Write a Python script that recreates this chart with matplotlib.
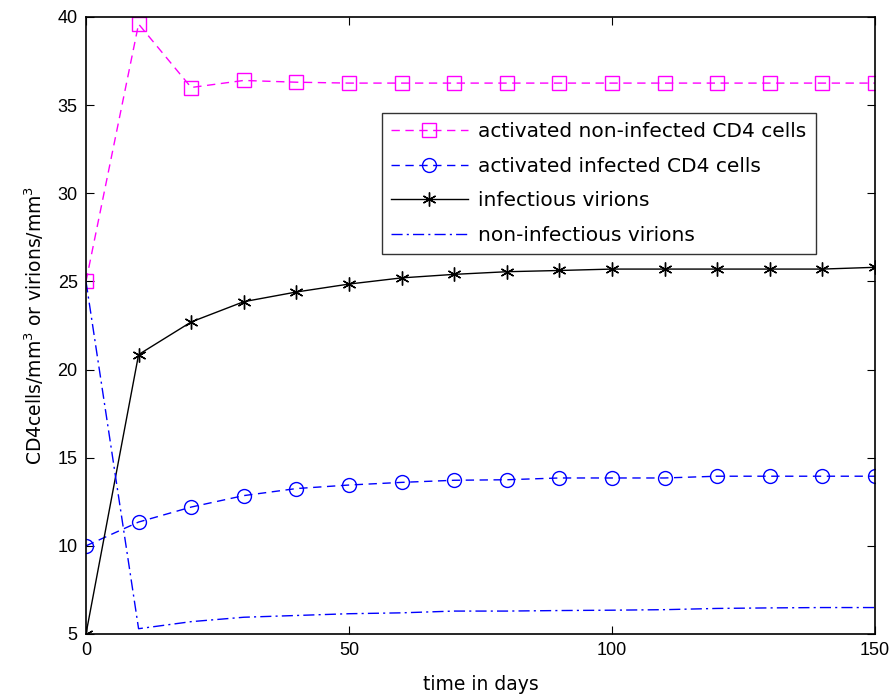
import numpy as np
import matplotlib.pyplot as plt

# time points (days) and model outputs
t = [0, 10, 20, 30, 40, 50, 60, 70, 80, 90, 100, 110, 120, 130, 140, 150]
act_noninf = [25.0, 39.6, 36.0, 36.4, 36.3, 36.25, 36.25, 36.25, 36.25, 36.25,
              36.25, 36.25, 36.25, 36.25, 36.25, 36.25]
act_inf = [10.0, 11.35, 12.2, 12.85, 13.25, 13.45, 13.6, 13.72, 13.75, 13.85,
           13.85, 13.85, 13.95, 13.95, 13.95, 13.95]
inf_vir = [5.0, 20.85, 22.7, 23.85, 24.4, 24.85, 25.2, 25.4, 25.55, 25.62,
           25.7, 25.7, 25.7, 25.7, 25.7, 25.8]
noninf_vir = [25.0, 5.3, 5.7, 5.95, 6.05, 6.15, 6.2, 6.3, 6.3, 6.33,
              6.35, 6.38, 6.45, 6.48, 6.5, 6.5]

plt.rcParams['font.family'] = ['DejaVu Sans']

fig = plt.figure(figsize=(8.91, 6.99), dpi=100)
ax = fig.add_axes([0.0965, 0.093, 0.8855, 0.8827])

ax.plot(t, act_noninf, '--s', color='#ff00ff', lw=1.0, ms=10, mfc='none', mew=1.0,
        dashes=(6, 4), label='activated non-infected CD4 cells')
ax.plot(t, act_inf, '--o', color='#0000ff', lw=1.0, ms=10, mfc='none', mew=1.0,
        dashes=(6, 4), label='activated infected CD4 cells')
ax.plot(t, inf_vir, '-', marker=(6, 2, 0), color='black', lw=1.0, ms=10, mew=1.0,
        label='infectious virions')
ax.plot(t, noninf_vir, '-.', color='#0000ff', lw=1.0, dashes=(8, 3, 1.5, 3),
        label='non-infectious virions')

ax.set_xlim(0, 150)
ax.set_ylim(5, 40)
ax.set_xticks([0, 50, 100, 150])
ax.set_yticks(np.arange(5, 41, 5))
ax.tick_params(direction='in', top=True, right=True, length=6, pad=6)
for lbl in ax.get_xticklabels() + ax.get_yticklabels():
    lbl.set_fontfamily('Liberation Sans')
    lbl.set_fontsize(13)
for s in ax.spines.values():
    s.set_linewidth(1.2)

ax.set_xlabel('time in days', fontsize=13.5, labelpad=11)
ax.set_ylabel('CD4cells/mm$^3$ or virions/mm$^3$', fontsize=13.5, labelpad=8)

leg = ax.legend(loc='upper left', bbox_to_anchor=(0.362, 0.861), fontsize=14.5,
                frameon=True, fancybox=False, edgecolor='black', handlelength=3.85,
                borderpad=0.45, labelspacing=0.78, handletextpad=0.5)
leg.get_frame().set_linewidth(1.0)

fig.savefig('out.png', dpi=100)
